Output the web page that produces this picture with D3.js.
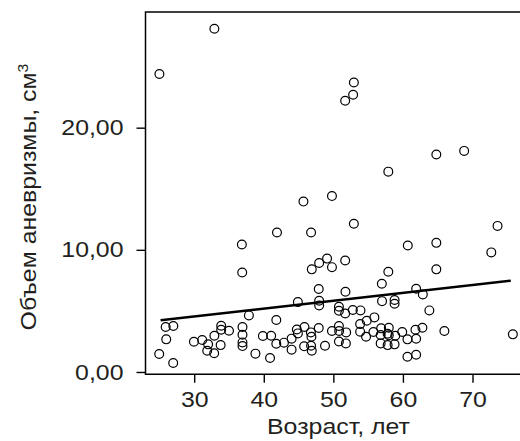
<!DOCTYPE html>
<html>
<head>
<meta charset="utf-8">
<script src="https://cdn.jsdelivr.net/npm/d3@7"></script>
<style>
  html, body { margin: 0; padding: 0; background: #fff; }
  svg { display: block; }
  text { font-family: "Liberation Sans", Arial, Helvetica, sans-serif; fill: #231f20; }
</style>
</head>
<body>
<svg id="chart" width="520" height="441"></svg>
<script>
// ---- data ----
const ages = [
  25.0, 32.9, 52.95, 52.84, 51.7, 64.8, 68.8, 57.9, 49.8, 45.7, 52.95, 73.6, 41.9, 46.8, 36.85, 60.7, 64.8, 72.7,
  51.7, 49.1, 47.96, 49.8, 46.9, 36.9, 57.9, 64.8,
  47.9, 44.9, 47.96, 47.96, 37.86, 41.8, 51.74, 56.97, 61.9, 62.86, 57.0, 58.8, 58.8, 50.8, 50.8, 51.7, 52.8, 53.9,
  63.8, 55.9, 54.8, 53.85,
  25.9, 27.0, 25.98, 24.97, 26.98, 29.96, 31.15, 32.0, 31.87, 32.87, 32.9, 33.88, 33.88, 35.0, 33.8, 36.94, 36.94,
  36.94, 36.94, 38.8, 40.9, 39.87, 41.06, 41.8, 42.9, 44.0, 44.0, 44.75, 44.9, 45.85, 45.8, 46.77, 46.85, 46.8, 46.9, 47.9,
  50.8, 49.8, 50.83, 51.84, 53.85, 55.76, 56.87, 57.97, 56.8, 57.8, 57.97, 58.9, 59.9, 61.8, 62.8, 65.96, 75.8,
  54.7, 60.65, 61.9, 48.8, 50.8, 51.8, 56.8, 57.8, 58.8, 60.65, 61.9
];
const volumes = [
  24.4, 28.1, 23.7, 22.7, 22.2, 17.8, 18.1, 16.4, 14.4, 13.95, 12.13, 11.96, 11.42, 11.42, 10.44, 10.36, 10.57, 9.79,
  9.13, 9.28, 8.92, 8.58, 8.4, 8.15, 8.2, 8.4,
  6.79, 5.72, 5.83, 5.45, 4.63, 4.25, 6.57, 7.22, 6.81, 6.35, 5.8, 5.89, 5.59, 5.34, 5.01, 4.79, 5.07, 5.04,
  5.04, 4.47, 4.2, 3.92,
  3.68, 3.76, 2.67, 1.47, 0.74, 2.48, 2.62, 2.26, 1.74, 1.53, 2.97, 3.79, 3.46, 3.38, 2.2, 3.68, 3.05,
  2.42, 2.12, 1.5, 1.15, 2.94, 2.97, 2.31, 2.4, 2.73, 1.83, 3.48, 3.16, 3.68, 2.1, 3.24, 2.89, 2.15, 1.74, 3.6,
  3.76, 3.35, 3.35, 3.24, 3.3, 3.27, 3.57, 3.62, 3.03, 3.13, 3.0, 2.97, 3.27, 3.46, 3.62, 3.35, 3.08,
  2.89, 2.67, 2.72, 2.15, 2.5, 2.34, 2.34, 2.2, 2.26, 1.25, 1.41
];
const fitIntercept = 2.61;   // linear fit line
const fitSlope = 0.0644;
const xTicks = [30, 40, 50, 60, 70];
const yTicks = [0, 10, 20];
const xTitle = "Возраст, лет";
const yTitle = "Объем аневризмы, см";

// ---- layout ----
const svg = d3.select("#chart");
const mLeft = 145.5, mTop = 12, mBottom = 374.3;
const stretch = 1.13;   // the reference type is set slightly wide
const x = d3.scaleLinear().domain([23, 77]).range([mLeft, mLeft + 54 * 6.9575]);
const y = d3.scaleLinear().domain([-0.19, 29.47]).range([mBottom, mTop]);

const fmt = v => d3.format(".2f")(v).replace(".", ",");

// frame (left, top, bottom; right edge lies beyond the picture)
svg.append("path")
  .attr("d", `M${mLeft + 530},${mTop}H${mLeft}V${mBottom}H${mLeft + 530}`)
  .attr("fill", "none").attr("stroke", "#000").attr("stroke-width", 1.5);

// y axis ticks
const yAxis = d3.axisLeft(y).tickValues(yTicks).tickFormat(fmt).tickSize(9).tickPadding(12);
const gy = svg.append("g").attr("transform", `translate(${mLeft},0)`).call(yAxis);
gy.select(".domain").remove();
gy.selectAll(".tick line").attr("stroke", "#000").attr("stroke-width", 1.4);
gy.selectAll(".tick text").attr("font-size", 22).attr("fill", "#231f20")
  .attr("font-family", "'Liberation Sans', Arial, sans-serif")
  .attr("x", -22 / stretch).attr("transform", `scale(${stretch},1)`);

// x axis ticks
const xAxis = d3.axisBottom(x).tickValues(xTicks).tickFormat(d3.format("d")).tickSize(8.5).tickPadding(9);
const gx = svg.append("g").attr("transform", `translate(0,${mBottom})`).call(xAxis);
gx.select(".domain").remove();
gx.selectAll(".tick line").attr("stroke", "#000").attr("stroke-width", 1.4);
gx.selectAll(".tick text").attr("font-size", 22).attr("fill", "#231f20")
  .attr("font-family", "'Liberation Sans', Arial, sans-serif")
  .attr("transform", `scale(${stretch},1)`);

// points
const pts = ages.map((a, i) => ({ a, v: volumes[i] }));
svg.append("g").selectAll("circle").data(pts).join("circle")
  .attr("cx", d => x(d.a)).attr("cy", d => y(d.v)).attr("r", 4.4)
  .attr("fill", "none").attr("stroke", "#000").attr("stroke-width", 1.2);

// fit line
const ext = d3.extent(ages);
const fitPts = [ext[0] + 0.2, ext[1] - 0.3].map(a => [a, fitIntercept + fitSlope * a]);
svg.append("path")
  .attr("d", d3.line().x(d => x(d[0])).y(d => y(d[1]))(fitPts))
  .attr("fill", "none").attr("stroke", "#000").attr("stroke-width", 2.5);

// titles
svg.append("text").attr("transform", `translate(338.5,434) scale(${stretch},1)`)
  .attr("text-anchor", "middle").attr("font-size", 22).text(xTitle);

const yt = svg.append("text").attr("transform", `translate(36,197) rotate(-90) scale(${stretch},1)`)
  .attr("text-anchor", "middle").attr("font-size", 22);
yt.append("tspan").text(yTitle);
yt.append("tspan").attr("font-size", 14).attr("dy", -8).text("3");
</script>
</body>
</html>
